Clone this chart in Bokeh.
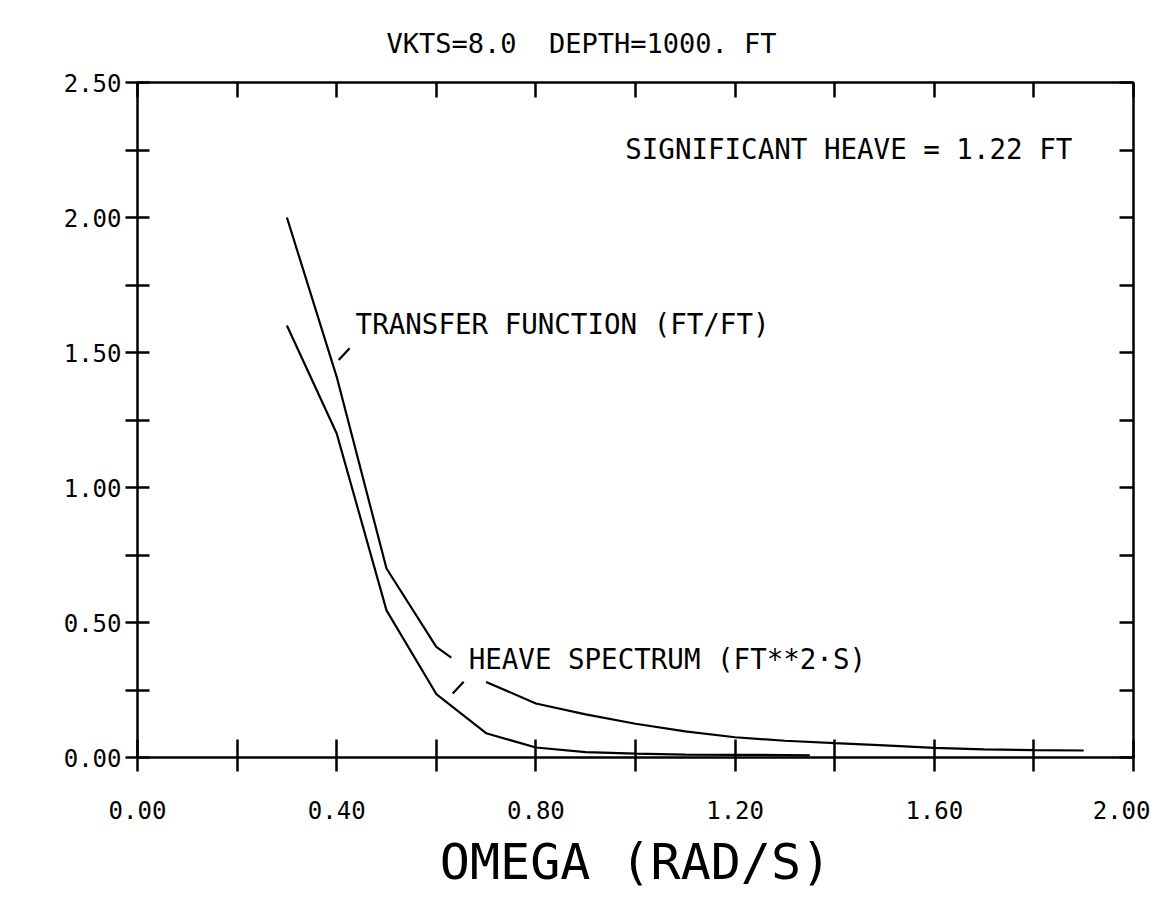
import math
from bokeh.plotting import figure
from bokeh.models import Range1d, LinearAxis, FixedTicker, Label, PrintfTickFormatter
from bokeh.embed import file_html
from bokeh.resources import INLINE

nan = float("nan")

# ---- data ----
omega_tf = [0.30, 0.40, 0.50, 0.60, 0.63, nan, 0.70, 0.80, 0.90, 1.00, 1.10, 1.20,
            1.30, 1.40, 1.50, 1.60, 1.70, 1.80, 1.90]
transfer = [2.00, 1.41, 0.70, 0.41, 0.37, nan, 0.28, 0.20, 0.16, 0.125, 0.097, 0.075,
            0.062, 0.053, 0.045, 0.036, 0.030, 0.027, 0.026]

omega_hs = [0.30, 0.40, 0.50, 0.60, 0.70, 0.80, 0.90, 1.00, 1.10, 1.20, 1.30, 1.35]
heave = [1.60, 1.20, 0.545, 0.235, 0.090, 0.037, 0.020, 0.014, 0.011, 0.010, 0.009, 0.008]

x_label_ticks = [0.0, 0.4, 0.8, 1.2, 1.6, 2.0]
x_minor_ticks = [0.2, 0.6, 1.0, 1.4, 1.8]
y_label_ticks = [0.0, 0.5, 1.0, 1.5, 2.0, 2.5]
y_minor_ticks = [0.25, 0.75, 1.25, 1.75, 2.25]

title_text = "VKTS=8.0\u00a0 DEPTH=1000. FT"
x_title = "OMEGA (RAD/S)"
sig_text = "SIGNIFICANT HEAVE = 1.22 FT"
tf_text = "TRANSFER FUNCTION (FT/FT)"
hs_text = "HEAVE SPECTRUM (FT**2\u00b7S)"

# leader lines (label -> curve)
lead_x0 = [0.426, 0.655]
lead_y0 = [1.516, 0.281]
lead_x1 = [0.404, 0.633]
lead_y1 = [1.472, 0.237]

FONT = "DejaVu Sans Mono"

p = figure(width=1150, height=894, output_backend="svg", toolbar_location=None,
           x_range=Range1d(0, 2.0), y_range=Range1d(0, 2.5),
           min_border_left=137, min_border_right=17, min_border_top=82,
           min_border_bottom=137, x_axis_location="below", y_axis_location="left")
p.grid.visible = False
p.outline_line_color = None
p.background_fill_color = "white"
p.border_fill_color = "white"

# title
p.title.text = title_text
p.title.text_font = FONT
p.title.text_font_size = "27px"
p.title.text_font_style = "normal"
p.title.text_color = "black"
p.title.align = "left"
p.title.offset = 249
p.title.standoff = 47

AX_W = 2.5

def style_axis(ax, tin, tout, labels=True, size="24px"):
    ax.axis_line_color = "black"
    ax.axis_line_width = AX_W
    ax.major_tick_line_color = "black"
    ax.minor_tick_line_color = "black"
    ax.major_tick_line_width = AX_W
    ax.minor_tick_line_width = AX_W
    ax.major_tick_in = tin
    ax.major_tick_out = tout
    ax.minor_tick_in = tin
    ax.minor_tick_out = tout
    ax.major_label_text_font = FONT
    ax.major_label_text_font_size = size
    ax.major_label_text_color = "black"
    if not labels:
        ax.major_label_text_font_size = "0px"
        ax.major_label_text_alpha = 0

xb = p.xaxis[0]
xb.ticker = FixedTicker(ticks=x_label_ticks, minor_ticks=x_minor_ticks)
xb.formatter = PrintfTickFormatter(format="%.2f")
style_axis(xb, 18, 14)
xb.major_label_standoff = 29
xb.axis_label = x_title
xb.axis_label_text_font = FONT
xb.axis_label_text_font_size = "50px"
xb.axis_label_text_font_style = "normal"
xb.axis_label_text_color = "black"
xb.axis_label_standoff = 11

yl = p.yaxis[0]
yl.ticker = FixedTicker(ticks=y_label_ticks, minor_ticks=y_minor_ticks)
yl.formatter = PrintfTickFormatter(format="%.2f")
style_axis(yl, 12, 12)
yl.major_label_standoff = 4

xtop = LinearAxis(ticker=FixedTicker(ticks=x_label_ticks, minor_ticks=x_minor_ticks))
style_axis(xtop, 15, 0, labels=False)
xtop.major_label_standoff = 0
p.add_layout(xtop, "above")

yr = LinearAxis(ticker=FixedTicker(ticks=y_label_ticks, minor_ticks=y_minor_ticks))
style_axis(yr, 14, 0, labels=False)
p.add_layout(yr, "right")

# curves
p.line(omega_tf, transfer, line_color="black", line_width=2.2)
p.line(omega_hs, heave, line_color="black", line_width=2.2)
p.segment(lead_x0, lead_y0, lead_x1, lead_y1, line_color="black", line_width=2.2)

def lab(x, y, text, size, align="left", baseline="alphabetic"):
    p.add_layout(Label(x=x, y=y, text=text, text_font=FONT, text_font_size=size,
                       text_color="black", text_align=align, text_baseline=baseline))

lab(0.438, 1.604, tf_text, "27.5px")
lab(0.665, 0.363, hs_text, "27.5px")
lab(1.877, 2.252, sig_text, "27.5px", align="right")

open("out.html", "w").write(file_html(p, INLINE))
